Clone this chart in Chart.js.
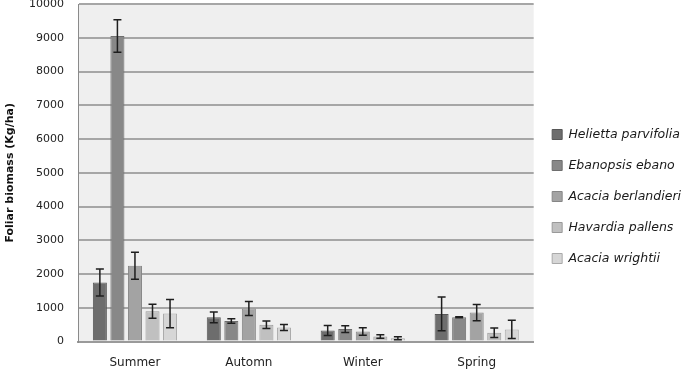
<!DOCTYPE html>
<html><head><meta charset="utf-8">
<script src="https://cdn.jsdelivr.net/npm/chart.js@4/dist/chart.umd.min.js"></script>
<style>html,body{margin:0;padding:0;background:#fff}#wrap{width:682px;height:370px}</style>
</head><body><div id="wrap"><canvas id="c" width="682" height="370"></canvas></div>
<script>
const seasons = ["Summer", "Automn", "Winter", "Spring"];
const species = ["Helietta parvifolia", "Ebanopsis ebano", "Acacia berlandieri", "Havardia pallens", "Acacia wrightii"];
const helietta = [1750, 720, 330, 820];
const ebanopsis = [9050, 610, 370, 720];
const berlandieri = [2250, 980, 300, 860];
const havardia = [900, 500, 150, 260];
const wrightii = [830, 420, 100, 360];
const heliettaErr = [400, 160, 150, 500];
const ebanopsisErr = [480, 70, 100, 15];
const berlandieriErr = [400, 210, 110, 240];
const havardiaErr = [210, 110, 50, 140];
const wrightiiErr = [420, 90, 45, 270];
const yTicks = [0,1000,2000,3000,4000,5000,6000,7000,8000,9000,10000];

const values = [helietta, ebanopsis, berlandieri, havardia, wrightii];
const errors = [heliettaErr, ebanopsisErr, berlandieriErr, havardiaErr, wrightiiErr];
const fills = ["#6d6d6d", "#888888", "#a3a3a3", "#c0c0c0", "#d6d6d6"];
const borders = ["#575757", "#6e6e6e", "#868686", "#999999", "#a9a9a9"];

const plotBg = {
  id: 'plotBg',
  beforeDraw(chart) {
    const {ctx, chartArea: a} = chart;
    ctx.save(); ctx.fillStyle = '#efefef';
    ctx.fillRect(a.left, a.top, a.right - a.left, a.bottom - a.top);
    ctx.restore();
  }
};
const errBars = {
  id: 'errBars',
  afterDatasetsDraw(chart) {
    const ctx = chart.ctx, ys = chart.scales.y;
    ctx.save(); ctx.strokeStyle = '#1e1e1e'; ctx.lineWidth = 1.5;
    chart.data.datasets.forEach((ds, i) => {
      const meta = chart.getDatasetMeta(i);
      meta.data.forEach((bar, j) => {
        const v = ds.data[j], e = ds.errors[j];
        const t = ys.getPixelForValue(v + e), b = ys.getPixelForValue(v - e);
        const x = bar.x, w = 4;
        ctx.beginPath();
        ctx.moveTo(x, t); ctx.lineTo(x, b);
        ctx.moveTo(x - w, t); ctx.lineTo(x + w, t);
        ctx.moveTo(x - w, b); ctx.lineTo(x + w, b);
        ctx.stroke();
      });
    });
    ctx.restore();
  }
};

new Chart(document.getElementById('c'), {
  type: 'bar',
  data: {
    labels: seasons,
    datasets: species.map((s, i) => ({
      label: s, data: values[i], errors: errors[i],
      backgroundColor: fills[i], borderColor: borders[i], borderWidth: 1,
      categoryPercentage: 0.77, barPercentage: 0.8
    }))
  },
  options: {
    responsive: false, animation: false,
    layout: { padding: { top: 0, right: -9, bottom: -14, left: 0 } },
    plugins: {
      legend: {
        position: 'right', align: 'center',
        title: { display: true, text: ' ', font: { size: 5 }, padding: { top: 0, bottom: 3 } },
        labels: {
          boxWidth: 10, boxHeight: 10, padding: 18.5, color: '#1a1a1a',
          font: { family: 'DejaVu Sans', style: 'italic', size: 12.5 }
        }
      },
      tooltip: { enabled: false }
    },
    scales: {
      x: {
        grid: { display: false, drawTicks: false },
        border: { color: '#9a9a9a', width: 2 },
        ticks: { color: '#222', padding: 14, font: { family: 'DejaVu Sans', size: 12 } }
      },
      y: {
        min: 0, max: 10000,
        afterBuildTicks: (s) => { s.ticks = yTicks.map(v => ({ value: v })); },
        afterFit: (s) => { s.width = 78; s.paddingTop = 4; s.paddingBottom = 0; },
        grid: { color: '#a6a6a6', lineWidth: 2, drawTicks: false },
        border: { color: '#8a8a8a', width: 1 },
        ticks: { color: '#222', padding: 14, callback: (v) => String(v), font: { family: 'DejaVu Sans', size: 11 } },
        title: { display: true, text: 'Foliar biomass (Kg/ha)', color: '#111', padding: 4,
          font: { family: 'DejaVu Sans', size: 11, weight: 'bold' } }
      }
    }
  },
  plugins: [plotBg, errBars]
});
</script></body></html>
